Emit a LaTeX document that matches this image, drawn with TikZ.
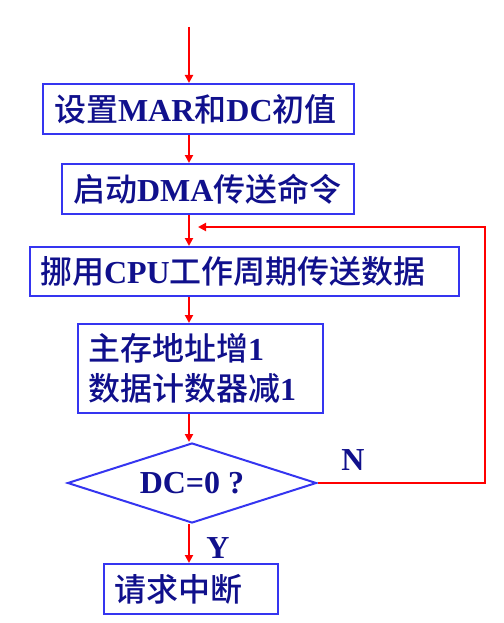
\documentclass[tikz,border=0pt]{standalone}
\usepackage{fontspec}
\setmainfont{Liberation Serif}
\IfFontExistsTF{Noto Sans CJK SC Medium}
  {\newfontfamily\cjk{Noto Sans CJK SC Medium}[BoldFont={Noto Sans CJK SC Medium}]}
  {\newfontfamily\cjk{Noto Sans CJK SC}}
\usetikzlibrary{shapes.geometric,arrows.meta}
\definecolor{txt}{HTML}{10108C}
\definecolor{bord}{HTML}{3535F0}
\definecolor{arr}{HTML}{FF0000}
\tikzset{
  box/.style={draw=bord, line width=2pt, rectangle, anchor=north west, inner ysep=0pt,
    font=\fontsize{32}{40}\selectfont\bfseries, text=txt, align=left},
  dec/.style={draw=bord, line width=2pt, diamond, aspect=3, inner sep=0pt,
    minimum width=249pt, minimum height=80pt, font=\fontsize{32}{40}\selectfont\bfseries, text=txt},
  lab/.style={font=\fontsize{32}{40}\selectfont\bfseries, text=txt},
  flow/.style={draw=arr, line width=2pt, -{Triangle[length=8pt,width=8pt]}}
}
\begin{document}
\begin{tikzpicture}[x=1pt,y=-1pt]
\useasboundingbox (0,0) rectangle (503,623);
\node[box, minimum width=311pt, minimum height=50pt, inner xsep=11pt, text width=289pt] (b1) at (42,83)
  {{\cjk 设置}MAR{\cjk 和}DC{\cjk 初值}};
\node[box, minimum width=292pt, minimum height=50pt, inner xsep=11pt, text width=270pt] (b2) at (61,163)
  {{\cjk 启动}DMA{\cjk 传送命令}};
\node[box, minimum width=429pt, minimum height=49pt, inner xsep=10pt, text width=409pt] (b3) at (29,246)
  {{\cjk 挪用}CPU{\cjk 工作周期传送数据}};
\node[box, minimum width=245pt, minimum height=89pt, inner xsep=10pt, text width=225pt] (b4) at (77,323)
  {{\cjk 主存地址增}1\\{\cjk 数据计数器减}1};
\node[dec] (d) at (192,483) {DC=0 ?};
\node[box, minimum width=174pt, minimum height=50pt, inner xsep=10pt, text width=154pt] (b5) at (103,563)
  {\cjk 请求中断};
\node[lab] (n) at (353,460) {N};
\node[lab] (y) at (218,548) {Y};
\coordinate (top) at (189,27);
\coordinate (rc) at (485,227);
\coordinate (fb) at (198,227);
\draw[flow] (top) -- (top |- b1.north);
\draw[flow] (top |- b1.south) -- (top |- b2.north);
\draw[flow] (top |- b2.south) -- (top |- b3.north);
\draw[flow] (top |- b3.south) -- (top |- b4.north);
\draw[flow] (top |- b4.south) -- (top |- d.north);
\draw[flow] (top |- d.south) -- (top |- b5.north);
\draw[flow] (d.east) -| (rc) -- (fb);
\end{tikzpicture}
\end{document}
